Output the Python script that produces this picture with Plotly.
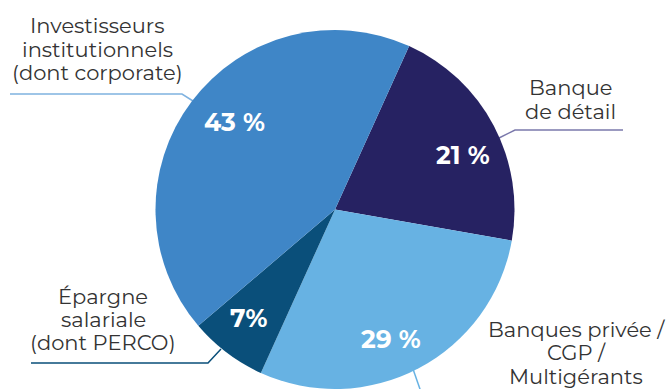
import plotly.graph_objects as go

# Répartition de la clientèle par canal de distribution
labels = ["Banque de détail", "Banques privée / CGP / Multigérants",
          "Épargne salariale (dont PERCO)", "Investisseurs institutionnels (dont corporate)"]
values = [21, 29, 7, 43]
pct_text = ["21 %", "29 %", "7%", "43 %"]
colors = ["#262262", "#67B2E3", "#0A4F7A", "#3F86C7"]
line_colors = ["#7B79AC", "#67B2E3", "#0A4F7A", "#7FB2E0"]

# outside label blocks, one entry per text line
outer_lines = [
    ["Banque", "de détail"],
    ["Banques privée /", "CGP /", "Multigérants"],
    ["Épargne", "salariale", "(dont PERCO)"],
    ["Investisseurs", "institutionnels", "(dont corporate)"],
]

W, H = 667, 389

fig = go.Figure(go.Pie(
    labels=labels,
    values=values,
    sort=False,
    direction="clockwise",
    rotation=24.4,
    marker=dict(colors=colors, line=dict(width=0)),
    textinfo="none",
    hoverinfo="label+percent",
    showlegend=False,
    domain=dict(x=[155 / W, 515 / W], y=[0.0, 359 / H]),
))

font_lbl = dict(family="Montserrat, DejaVu Sans, sans-serif", size=21, color="#333333")
font_pct = dict(family="Montserrat, DejaVu Sans, sans-serif", size=25, color="white")

# percentage labels inside slices (pixel positions from top-left)
pct_pos = [(463, 155), (391, 339), (249, 318), (234, 122)]
# outer label: centre x and centre y of each line
lbl_x = [570, 576, 103, 97]
lbl_y = [[87, 111], [329, 352, 376], [296, 319, 342], [26, 49, 73]]
# leader lines: polyline points in pixels
leaders = [
    [(623, 130), (515, 130), (499, 138)],
    [(413, 369), (421, 392)],
    [(31, 363), (208, 363), (221, 349)],
    [(10, 94), (182, 94), (193, 101)],
]

annotations = []
for (x, y), t in zip(pct_pos, pct_text):
    annotations.append(dict(x=x / W, y=1 - y / H, xref="paper", yref="paper",
                            text=f"<b>{t}</b>", showarrow=False, font=font_pct,
                            xanchor="center", yanchor="middle"))
for x, ys, lines in zip(lbl_x, lbl_y, outer_lines):
    for y, t in zip(ys, lines):
        annotations.append(dict(x=x / W, y=1 - y / H, xref="paper", yref="paper",
                                text=t, showarrow=False, font=font_lbl,
                                xanchor="center", yanchor="middle", align="center"))

shapes = []
for pts, c in zip(leaders, line_colors):
    path = "M " + " L ".join(f"{x / W},{1 - y / H}" for x, y in pts)
    shapes.append(dict(type="path", xref="paper", yref="paper", path=path,
                       line=dict(color=c, width=1.5), layer="below"))

fig.update_layout(
    width=W, height=H,
    margin=dict(l=0, r=0, t=0, b=0),
    paper_bgcolor="white", plot_bgcolor="white",
    annotations=annotations,
    shapes=shapes,
)

fig.write_html("out.html")
